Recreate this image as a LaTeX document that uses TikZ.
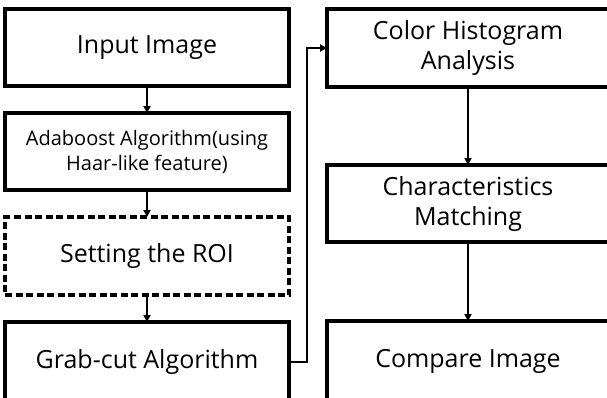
\documentclass[tikz,border=0pt]{standalone}
\usepackage{fontspec}
\setmainfont{Open Sans}
\usetikzlibrary{arrows.meta}

\begin{document}
\begin{tikzpicture}[x=1pt,y=-1pt,
    stepbox/.style={draw, line width=3.2pt, inner sep=0pt, outer sep=0pt, align=center,
      font=\fontsize{25}{30}\selectfont},
    leftbox/.style={stepbox, minimum width=284pt},
    rightbox/.style={stepbox, minimum width=282pt},
    flow/.style={line width=2.4pt, -{Triangle[length=7pt,width=7pt]}}]
        \clip (0,0) rectangle (607,397);

        \node [leftbox, minimum height=77pt] (input) at (147,47.5) {Input Image};
        \node [leftbox, minimum height=77pt, font=\fontsize{20}{25}\selectfont] (ada) at (147,151.5)
          {Adaboost Algorithm(using\\Haar-like feature)};
        \node [leftbox, minimum height=78pt, dash pattern=on 7pt off 3.5pt] (roi) at (147,256) {Setting the ROI};
        \node [leftbox, minimum height=80pt] (grab) at (147,362) {Grab-cut Algorithm};

        \node [rightbox, minimum height=78pt] (color) at (468,48) {Color Histogram\\Analysis};
        \node [rightbox, minimum height=77pt] (match) at (468,203.5) {Characteristics\\Matching};
        \node [rightbox, minimum height=80pt] (compare) at (468,361) {Compare Image};

        \draw [flow] (input) -- (ada);
        \draw [flow] (ada) -- (roi);
        \draw [flow] (roi) -- (grab);
        \coordinate (turn) at (307,48);
        \draw [flow] (grab.east) -| (turn) -- (color.west);
        \draw [flow] (color) -- (match);
        \draw [flow] (match) -- (compare);
      \end{tikzpicture}
\end{document}
